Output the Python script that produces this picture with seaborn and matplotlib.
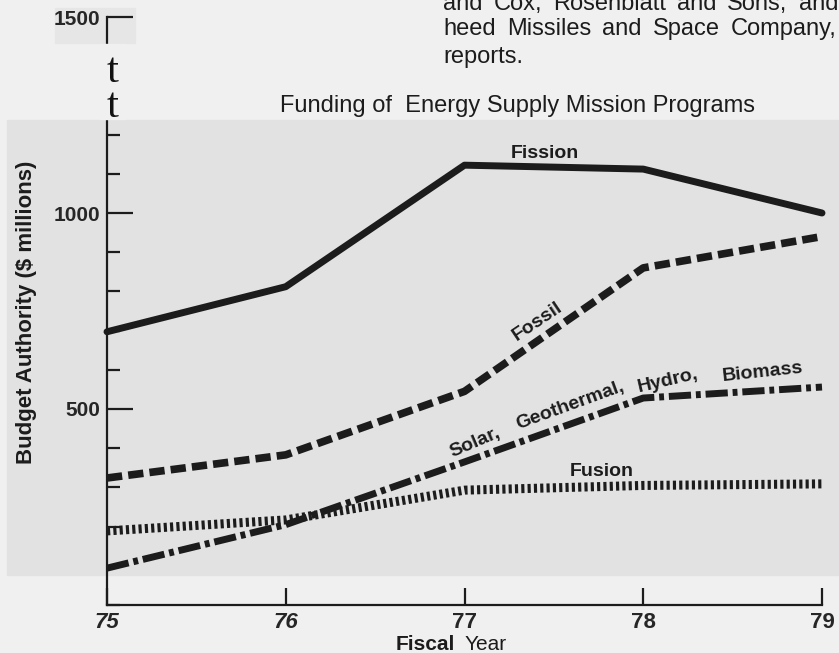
import numpy as np
import pandas as pd
import matplotlib
matplotlib.use("Agg")
import matplotlib.pyplot as plt
import seaborn as sns
from matplotlib.patches import Rectangle
from matplotlib.ticker import MultipleLocator, FixedLocator

# Budget authority ($ millions) per fiscal year
years = [75, 76, 77, 78, 79]
fission = [697, 812, 1122, 1112, 1000]
fossil = [324, 383, 545, 860, 940]
solar = [94, 205, 365, 528, 556]
fusion = [189, 217, 293, 305, 309]

year_labels = ["75", "76", "77", "78", "79"]
major_yticks = [500, 1000, 1500]

df = pd.DataFrame({
    "year": years * 4,
    "budget": fission + fossil + solar + fusion,
    "program": ["Fission"] * 5 + ["Fossil"] * 5 + ["Solar"] * 5 + ["Fusion"] * 5,
})

sns.set_style("ticks")
plt.rcParams["font.family"] = ["Liberation Sans", "DejaVu Sans"]

W, H = 839, 653
BG = "#f0f0f0"
INK = "#1c1c1c"


def fx(x):
    return x / W


def fy(y):
    return 1 - y / H


fig = plt.figure(figsize=(8.39, 6.53), dpi=100, facecolor=BG)
renderer = fig.canvas.get_renderer()

# grey scanned band behind the plot and the little patch behind "1500"
fig.patches.append(Rectangle((fx(7), fy(575)), fx(832), (575 - 120) / H,
                             transform=fig.transFigure, color="#e2e2e2", zorder=-1))
fig.patches.append(Rectangle((fx(55), fy(43)), fx(80), 35 / H,
                             transform=fig.transFigure, color="#e6e6e6", zorder=-1))

ax = fig.add_axes([fx(107), 48 / H, fx(715), 588 / H])
ax.patch.set_alpha(0)

styles = {
    "Fission": (5.0, "-"),
    "Fossil": (5.5, (0, (2.0, 0.8))),
    "Solar": (5.0, (0, (3.2, 0.7, 0.7, 0.7))),
    "Fusion": (6.5, (0, (0.35, 0.35))),
}
for name, (lw, ls) in styles.items():
    sub = df[df["program"] == name]
    sns.lineplot(data=sub, x="year", y="budget", ax=ax, color=INK,
                 linewidth=lw, linestyle=ls, clip_on=False)

ax.set_xlim(75, 79)
ax.set_ylim(0, 1500)
ax.set_xlabel("")
ax.set_ylabel("")
sns.despine(ax=ax)
for s in ["left", "bottom"]:
    ax.spines[s].set_linewidth(1.6)
    ax.spines[s].set_color(INK)

ax.xaxis.set_major_locator(FixedLocator(years))
ax.set_xticklabels(year_labels)
ax.tick_params(axis="x", direction="in", length=12, width=1.6, color=INK, pad=5,
               labelsize=16)
for lab in ax.get_xticklabels():
    lab.set_fontweight("bold")
    if lab.get_text() in ("75", "76"):
        lab.set_fontstyle("italic")

ax.yaxis.set_major_locator(FixedLocator(major_yticks))
ax.yaxis.set_minor_locator(MultipleLocator(100))
ax.tick_params(axis="y", which="major", direction="in", length=19, width=1.6,
               color=INK, pad=5, labelsize=15)
ax.tick_params(axis="y", which="minor", direction="in", length=9, width=1.6, color=INK)
for lab in ax.get_yticklabels():
    lab.set_fontweight("bold")

# line labels
lab_kw = dict(fontsize=14, fontweight="bold", color=INK, ha="center")
ax.text(77.45, 1140, "Fission", va="baseline", **lab_kw)
ax.text(77.77, 329, "Fusion", va="baseline", **lab_kw)
ax.text(77.41, 722, "Fossil", va="center", rotation=34, **lab_kw)
ax.text(77.06, 413, "Solar,", va="center", rotation=23, **lab_kw)
ax.text(77.59, 510, "Geothermal,", va="center", rotation=20, **lab_kw)
ax.text(78.14, 571, "Hydro,", va="center", rotation=13, **lab_kw)
ax.text(78.67, 594, "Biomass", va="center", rotation=6, **lab_kw)

# axis titles
fig.text(fx(27), fy(312), "Budget Authority ($ millions)", rotation=90,
         ha="center", va="center", fontsize=16, fontweight="bold", color=INK)
fig.text(fx(455), fy(650), "Fiscal", ha="right", va="baseline",
         fontsize=15, fontweight="bold", color=INK)
fig.text(fx(465), fy(650), "Year", ha="left", va="baseline", fontsize=15, color=INK)

fig.text(fx(517), fy(112), "Funding of  Energy Supply Mission Programs",
         ha="center", va="baseline", fontsize=17, color=INK)


# OCR text caught at the top of the page, justified between x0 and x1
def justify_line(words, x0, x1, base):
    texts = [fig.text(0, fy(base), w, ha="left", va="baseline", fontsize=17, color=INK)
             for w in words]
    widths = [t.get_window_extent(renderer).width for t in texts]
    gap = (x1 - x0 - sum(widths)) / max(len(words) - 1, 1)
    x = x0
    for t, wd in zip(texts, widths):
        t.set_x(fx(x))
        x += wd + gap


justify_line(["and", "Cox,", "Rosenblatt", "and", "Sons,", "and"], 443, 838, 10)
justify_line(["heed", "Missiles", "and", "Space", "Company,"], 443, 837, 35)
fig.text(fx(443), fy(63), "reports.", ha="left", va="baseline", fontsize=17, color=INK)

# the two stray "t" glyphs that replaced part of the axis line
fig.patches.append(Rectangle((fx(100), fy(119)), fx(25), 75 / H,
                             transform=fig.transFigure, color=BG, zorder=2))
for y in (82, 117):
    fig.text(fx(113), fy(y), "t", ha="center", va="baseline", fontsize=31,
             family="Liberation Serif", color="#111111", zorder=3)

fig.savefig("out.png", dpi=100, facecolor=BG)
